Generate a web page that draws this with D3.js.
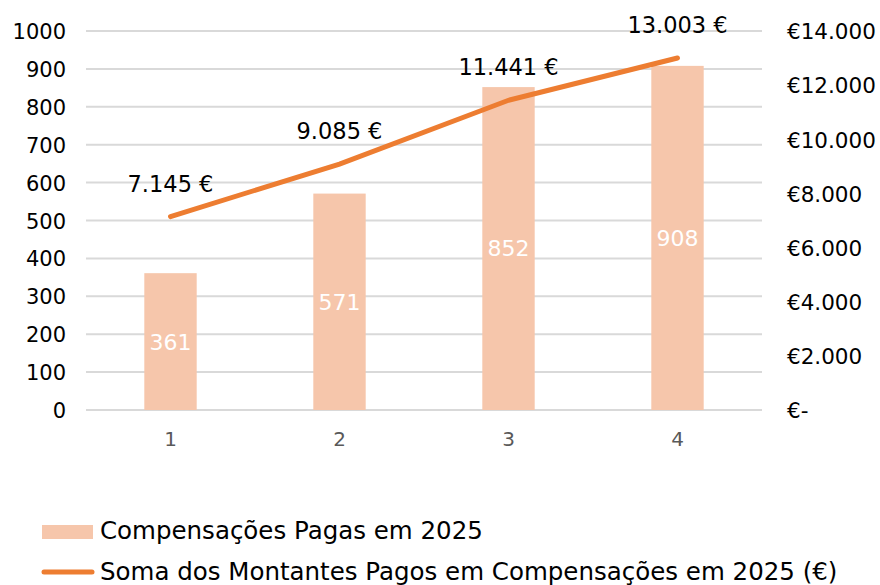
<!DOCTYPE html>
<html><head><meta charset="utf-8">
<script src="https://cdn.jsdelivr.net/npm/d3@7"></script>
<style>
html,body{margin:0;padding:0;background:#fff;}
svg{display:block;font-family:"DejaVu Sans",sans-serif;}
</style></head>
<body><svg id="c" width="880" height="585"></svg>
<script>
const categories = ["1","2","3","4"];
const barValues = [361, 571, 852, 908];
const lineValues = [7145, 9085, 11441, 13003];
const leftTicks = [0,100,200,300,400,500,600,700,800,900,1000];
const rightTicks = [0,2000,4000,6000,8000,10000,12000,14000];
const barName = "Compensações Pagas em 2025";
const lineName = "Soma dos Montantes Pagos em Compensações em 2025 (€)";

const svg = d3.select("#c");
const x = d3.scaleBand().domain(categories).range([86, 762]).paddingInner(0.69).paddingOuter(0.345);
const y = d3.scaleLinear().domain([0,1000]).range([410,31]);
const y2 = d3.scaleLinear().domain([0,14000]).range([410,31]);

const fmtDot = v => v.toLocaleString("de-DE");

// gridlines
svg.append("g").selectAll("line").data(leftTicks).join("line")
  .attr("x1",86).attr("x2",762)
  .attr("y1",d=>y(d)).attr("y2",d=>y(d))
  .attr("stroke","#d9d9d9").attr("stroke-width",2);

// left axis
const la = svg.append("g").attr("transform","translate(66,0)")
  .call(d3.axisLeft(y).tickValues(leftTicks).tickSize(0).tickPadding(0).tickFormat(d3.format("d")));
la.select(".domain").remove();
la.selectAll("text").attr("font-size",21).attr("fill","#000").attr("font-family","DejaVu Sans").attr("dy","0.36em");

// right axis
const ra = svg.append("g").attr("transform","translate(787,0)")
  .call(d3.axisRight(y2).tickValues(rightTicks).tickSize(0).tickPadding(0)
    .tickFormat(d => d===0 ? "€-" : "€" + fmtDot(d)));
ra.select(".domain").remove();
ra.selectAll("text").attr("font-size",21.5).attr("fill","#000").attr("font-family","DejaVu Sans").attr("dy","0.36em");

// x axis
const xa = svg.append("g").attr("transform","translate(0,410)")
  .call(d3.axisBottom(x).tickSize(0).tickPadding(22));
xa.select(".domain").remove();
xa.selectAll("text").attr("font-size",20).attr("fill","#595959").attr("font-family","DejaVu Sans");

// bars
svg.append("g").selectAll("rect").data(barValues).join("rect")
  .attr("x",(d,i)=>x(categories[i])).attr("width",x.bandwidth())
  .attr("y",d=>y(d)).attr("height",d=>y(0)-y(d))
  .attr("fill","#f6c6ab");
svg.append("g").selectAll("text").data(barValues).join("text")
  .attr("x",(d,i)=>x(categories[i])+x.bandwidth()/2)
  .attr("y",d=>(y(d)+y(0))/2).attr("dy","0.36em")
  .attr("text-anchor","middle").attr("font-size",22).attr("fill","#fff")
  .text(d=>d);

// line
const line = d3.line().x((d,i)=>x(categories[i])+x.bandwidth()/2).y(d=>y2(d));
svg.append("path").datum(lineValues).attr("d",line)
  .attr("fill","none").attr("stroke","#ed7d31").attr("stroke-width",5).attr("stroke-linecap","round");
svg.append("g").selectAll("text").data(lineValues).join("text")
  .attr("x",(d,i)=>x(categories[i])+x.bandwidth()/2)
  .attr("y",d=>y2(d)-25)
  .attr("text-anchor","middle").attr("font-size",22.5).attr("fill","#000")
  .text(d=>fmtDot(d)+" €");

// legend
const lg = svg.append("g");
lg.append("rect").attr("x",42).attr("y",525).attr("width",51).attr("height",14).attr("fill","#f6c6ab");
lg.append("text").attr("x",100).attr("y",539).attr("font-size",24.5).attr("fill","#000").text(barName);
lg.append("line").attr("x1",44).attr("x2",92).attr("y1",572).attr("y2",572)
  .attr("stroke","#ed7d31").attr("stroke-width",5).attr("stroke-linecap","round");
lg.append("text").attr("x",100).attr("y",580).attr("font-size",24.5).attr("fill","#000").text(lineName);
</script></body></html>
